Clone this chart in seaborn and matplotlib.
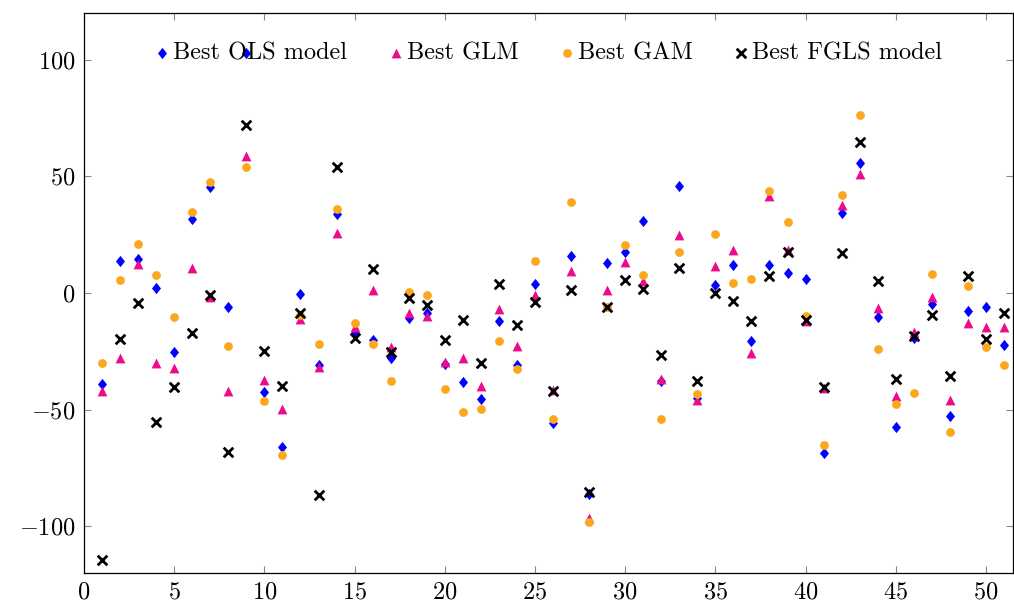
import matplotlib
matplotlib.use("Agg")
import matplotlib.pyplot as plt
import seaborn as sns
import pandas as pd
import numpy as np

# Index of each case (1..51)
case = list(range(1, 52))

ols = [-38.9, 13.7, 14.4, 2.3, -25.2, 31.8, 45.6, -6.2, 102.9, -42.6,
       -65.9, -0.5, -30.8, 33.9, -17.0, -20.1, -27.9, -10.9, -8.5, -30.4,
       -38.3, -45.4, -12.0, -30.8, 4.0, -55.6, 15.7, -86.2, 13.0, 17.6,
       30.8, -37.9, 45.7, -45.0, 3.3, 11.9, -20.4, 11.9, 8.7, 5.9,
       -68.4, 34.2, 55.9, -10.4, -57.5, -19.4, -4.5, -52.5, -7.6, -5.9,
       -22.3]

glm = [-42.1, -27.9, 12.6, -30.1, -32.3, 10.7, -1.9, -42.1, 58.8, -37.2,
       -49.7, -11.2, -31.8, 25.7, -14.4, 1.2, -23.0, -8.5, -9.9, -29.4,
       -27.9, -40.0, -6.9, -22.7, -0.9, -41.4, 9.5, -96.6, 1.2, 13.3,
       5.0, -36.9, 24.7, -46.0, 11.6, 18.3, -25.5, 41.7, 18.5, -11.8,
       -40.5, 37.9, 51.0, -6.6, -44.0, -16.5, -1.9, -45.7, -12.7, -14.4,
       -14.4]

gam = [-29.9, 5.7, 20.8, 7.9, -10.2, 34.8, 47.5, -22.5, 53.8, -46.4,
       -69.5, -9.5, -22.0, 36.0, -12.7, -21.8, -37.5, 0.4, -0.9, -41.2,
       -51.1, -49.7, -20.5, -32.6, 13.7, -54.2, 39.0, -98.3, -5.8, 20.4,
       7.6, -54.2, 17.6, -43.1, 25.4, 4.3, 6.0, 43.6, 30.4, -9.9,
       -65.2, 42.1, 76.3, -24.0, -47.4, -42.9, 8.3, -59.5, 2.9, -23.0,
       -30.8]

fgls = [-114.4, -19.7, -4.2, -55.4, -40.3, -17.3, -0.9, -68.1, 71.9, -24.7,
        -39.7, -8.5, -86.6, 53.8, -19.4, 10.4, -25.2, -2.3, -5.2, -20.1,
        -11.6, -30.1, 4.0, -13.7, -3.8, -42.1, 1.5, -85.1, -6.2, 5.5,
        1.9, -26.7, 10.9, -37.5, 0.2, -3.3, -11.9, 7.3, 17.6, -11.6,
        -40.3, 17.1, 64.9, 5.1, -36.9, -18.3, -9.4, -35.5, 7.3, -19.7,
        -8.5]

labels = ["Best OLS model", "Best GLM", "Best GAM", "Best FGLS model"]

plt.rcParams["font.family"] = "cmr10"
plt.rcParams["mathtext.fontset"] = "cm"
plt.rcParams["axes.formatter.use_mathtext"] = True
plt.rcParams["axes.unicode_minus"] = True

fig = plt.figure(figsize=(10.14, 6.06), dpi=100)
ax = fig.add_axes([84 / 1014, 1 - 573 / 606, 929 / 1014, 560 / 606])

# slightly elongated diamond, taller than wide
diamond = [(0, 1), (0.8, 0), (0, -1), (-0.8, 0), (0, 1)]

series = [
    (ols, labels[0], diamond, "#0000FF", 66),
    (glm, labels[1], "^", "#EC0B8C", 50),
    (gam, labels[2], "o", "#FBA81F", 40),
]
for vals, lab, mk, col, size in series:
    df = pd.DataFrame({"case": case, "value": vals})
    sns.scatterplot(data=df, x="case", y="value", marker=mk, color=col,
                    s=size, linewidth=0, label=lab, ax=ax, zorder=3)

df = pd.DataFrame({"case": case, "value": fgls})
sns.scatterplot(data=df, x="case", y="value", marker="x", color="black",
                s=48, linewidth=2.0, label=labels[3], ax=ax, zorder=3)

ax.set_xlim(0, 51.5)
ax.set_ylim(-120, 120)
ax.set_xticks(np.arange(0, 51, 5))
ax.set_yticks([-100, -50, 0, 50, 100])
ax.set_xlabel("")
ax.set_ylabel("")
ax.tick_params(direction="in", top=True, right=True, length=5, width=0.8,
               color="#888888", labelsize=17.5, pad=6)
for sp in ax.spines.values():
    sp.set_color("black")
    sp.set_linewidth(0.9)

ax.legend(loc="upper center", bbox_to_anchor=(0.5, 0.986), ncol=4,
          frameon=False, fontsize=17.5, handlelength=0.6, handletextpad=0.15,
          columnspacing=1.7, markerscale=1.0)

fig.savefig("out.png", dpi=100)
